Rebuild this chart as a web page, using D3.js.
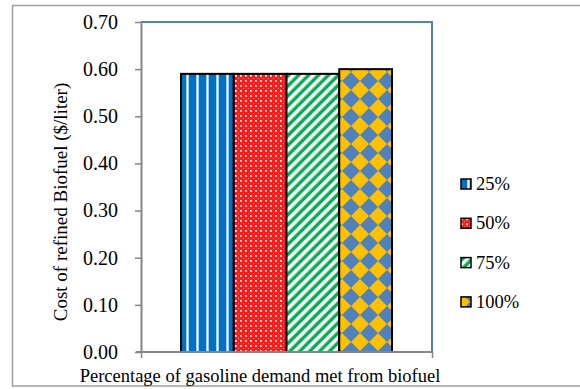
<!DOCTYPE html>
<html>
<head>
<meta charset="utf-8">
<script src="https://cdn.jsdelivr.net/npm/d3@7"></script>
<style>
  html, body { margin: 0; padding: 0; background: #fff; }
  svg { display: block; }
  svg text { font-family: "Liberation Serif", "Times New Roman", Times, serif !important; fill: #000; }
</style>
</head>
<body>
<svg id="chart" width="580" height="389"></svg>
<script>
// Series shown in the single cluster, and the cost of each
const seriesNames = ["25%", "50%", "75%", "100%"];
const costValues = [0.59, 0.59, 0.59, 0.60];
const yTickValues = [0, 0.1, 0.2, 0.3, 0.4, 0.5, 0.6, 0.7];
const yTitle = "Cost of refined Biofuel ($/liter)";
const xTitle = "Percentage of gasoline demand met from biofuel";

const svg = d3.select("#chart");
const plot = { left: 141, right: 432, top: 22, bottom: 352 };
const FS = 18.5;

// Outer chart frame
svg.append("rect")
  .attr("x", 12.5).attr("y", 5.5).attr("width", 600).attr("height", 380.5)
  .attr("fill", "none").attr("stroke", "#a0a0a0").attr("stroke-width", 1.5);

// Fill patterns for the four series
const defs = svg.append("defs");

// 25%: blue with thin light vertical stripes
const p1 = defs.append("pattern").attr("id", "pat25")
  .attr("patternUnits", "userSpaceOnUse").attr("width", 10).attr("height", 10);
p1.append("rect").attr("width", 10).attr("height", 10).attr("fill", "#0070c0");
p1.append("rect").attr("x", 6).attr("width", 3).attr("height", 10).attr("fill", "#9ccbee");
p1.append("rect").attr("x", 7).attr("width", 1).attr("height", 10).attr("fill", "#ffffff");

// 50%: red with fine white lattice
const p2 = defs.append("pattern").attr("id", "pat50")
  .attr("patternUnits", "userSpaceOnUse").attr("width", 5).attr("height", 5);
p2.append("rect").attr("width", 5).attr("height", 5).attr("fill", "#ff1a1a");
p2.append("rect").attr("x", 0).attr("y", 0).attr("width", 2).attr("height", 2).attr("fill", "#ffb4b4");
p2.append("rect").attr("x", 0).attr("y", 0).attr("width", 1).attr("height", 1).attr("fill", "#ffffff");
p2.append("rect").attr("x", 3).attr("y", 3).attr("width", 1).attr("height", 1).attr("fill", "#ff8080");

// 75%: green with wide upward diagonal white stripes
const p3 = defs.append("pattern").attr("id", "pat75")
  .attr("patternUnits", "userSpaceOnUse").attr("width", 7).attr("height", 7)
  .attr("patternTransform", "rotate(45)");
p3.append("rect").attr("width", 7).attr("height", 7).attr("fill", "#00b050");
p3.append("rect").attr("x", 0).attr("width", 3).attr("height", 7).attr("fill", "#ffffff");
p3.append("rect").attr("x", 3).attr("width", 1).attr("height", 7).attr("fill", "#9fdcb8");

// 100%: gold with blue diamond checkerboard
const p4 = defs.append("pattern").attr("id", "pat100")
  .attr("patternUnits", "userSpaceOnUse").attr("width", 18).attr("height", 18);
p4.append("rect").attr("width", 18).attr("height", 18).attr("fill", "#ffc000");
p4.append("path").attr("d", "M9,0 L18,9 L9,18 L0,9 Z").attr("fill", "#4f81bd");

const patternIds = ["pat25", "pat50", "pat75", "pat100"];

// Scales
const y = d3.scaleLinear().domain([0, 0.7]).range([plot.bottom, plot.top]);
const x = d3.scaleBand().domain(seriesNames)
  .range([plot.left + 40, plot.right - 40]).padding(0);

// Plot border (top and right) in blue
svg.append("path")
  .attr("d", `M${plot.left},${plot.top} H${plot.right} V${plot.bottom}`)
  .attr("fill", "none").attr("stroke", "#4f81bd").attr("stroke-width", 2);

// Bars
svg.append("g").selectAll("rect").data(seriesNames).join("rect")
  .attr("x", d => x(d))
  .attr("y", (d, i) => y(costValues[i]))
  .attr("width", x.bandwidth())
  .attr("height", (d, i) => y(0) - y(costValues[i]))
  .attr("fill", (d, i) => `url(#${patternIds[i]})`)
  .attr("stroke", "#000").attr("stroke-width", 2);

// Y axis
const yAxis = svg.append("g")
  .attr("transform", `translate(${plot.left},0)`)
  .call(d3.axisLeft(y).tickValues(yTickValues).tickFormat(d3.format(".2f"))
    .tickSizeInner(6).tickSizeOuter(0).tickPadding(17));
yAxis.attr("font-family", null).attr("font-size", null);
yAxis.select(".domain").attr("stroke", "#868686").attr("stroke-width", 2);
yAxis.selectAll(".tick line").attr("stroke", "#868686").attr("stroke-width", 1.5);
yAxis.selectAll(".tick text").style("font-size", "20px");

// X axis: category axis with tick marks at the two edges
const xEdge = d3.scaleLinear().domain([0, 1]).range([plot.left, plot.right]);
const xAxis = svg.append("g")
  .attr("transform", `translate(0,${plot.bottom})`)
  .call(d3.axisBottom(xEdge).tickValues([0, 1]).tickFormat("")
    .tickSizeInner(6).tickSizeOuter(0));
xAxis.select(".domain").attr("stroke", "#868686").attr("stroke-width", 2)
  .attr("d", `M${plot.left - 5},0 H${plot.right}`);
xAxis.selectAll(".tick line").attr("stroke", "#868686").attr("stroke-width", 1.5);

// Axis titles
svg.append("text")
  .attr("transform", `translate(67,202) rotate(-90)`)
  .attr("text-anchor", "middle").style("font-size", "19px")
  .text(yTitle);

svg.append("text")
  .attr("x", 260).attr("y", 382)
  .attr("text-anchor", "middle").style("font-size", FS + "px")
  .text(xTitle);

// Legend
const legend = svg.append("g").selectAll("g").data(seriesNames).join("g")
  .attr("transform", (d, i) => `translate(461,${184 + i * 39.3})`);
legend.append("rect")
  .attr("x", 0).attr("y", -5).attr("width", 10).attr("height", 10)
  .attr("fill", (d, i) => `url(#${patternIds[i]})`)
  .attr("stroke", "#000").attr("stroke-width", 1.5);
legend.append("text")
  .attr("x", 15).attr("y", 6)
  .style("font-size", FS + "px")
  .text(d => d);
</script>
</body>
</html>
